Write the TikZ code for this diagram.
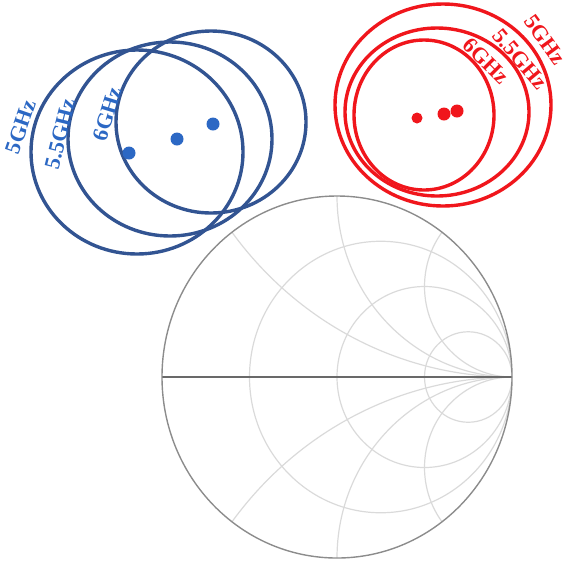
\documentclass[tikz,border=0pt]{standalone}
\usepackage{fontspec}
\setmainfont{Liberation Serif}[BoldFont={Liberation Serif Bold}]
\definecolor{bline}{RGB}{50,84,146}
\definecolor{bdot}{RGB}{44,104,196}
\definecolor{rline}{RGB}{240,22,28}
\definecolor{gridc}{RGB}{218,218,218}
\definecolor{rimc}{RGB}{140,140,140}
\definecolor{axc}{RGB}{105,105,105}
\tikzset{
  bcirc/.style={draw=bline,line width=3.4pt},
  rcirc/.style={draw=rline,line width=3.4pt},
  bdotst/.style={fill=bdot},
  rdotst/.style={fill=rline},
  blab/.style={text=bdot,font=\bfseries\fontsize{22}{22}\selectfont,inner sep=0pt},
  rlab/.style={text=rline,font=\bfseries\fontsize{22}{22}\selectfont,inner sep=0pt},
  gridl/.style={draw=gridc,line width=1.2pt},
}
\begin{document}
\begin{tikzpicture}[x=1pt,y=-1pt]
\useasboundingbox (0,0) rectangle (569,566);
% Smith chart
\begin{scope}[shift={(337,377)},xscale=175,yscale=-181]
  \begin{scope}
    \clip (0,0) circle (1);
    \draw[gridl] (0.25,0) circle (0.75);
    \draw[gridl] (0.5,0) circle (0.5);
    \draw[gridl] (0.75,0) circle (0.25);
    \draw[gridl] (1,2) circle (2);
    \draw[gridl] (1,-2) circle (2);
    \draw[gridl] (1,1) circle (1);
    \draw[gridl] (1,-1) circle (1);
    \draw[gridl] (1,0.5) circle (0.5);
    \draw[gridl] (1,-0.5) circle (0.5);
  \end{scope}
  \coordinate (sl) at (-1,0);
  \coordinate (sr) at (1,0);
  \draw[axc,line width=1.3pt] (sl) -- (sr);
  \draw[rimc,line width=1.4pt] (0,0) circle (1);
\end{scope}
% blue circles
\draw[bcirc] (137,152) ellipse [x radius=106,y radius=102];
\draw[bcirc] (170,139) ellipse [x radius=102,y radius=97];
\draw[bcirc] (211,122) ellipse [x radius=95,y radius=91];
\fill[bdotst] (129,153) circle (6.5);
\fill[bdotst] (177,139) circle (6.5);
\fill[bdotst] (213,124) circle (6.5);
\node[blab,rotate=71] (b5) at (21,127) {5GHz};
\node[blab,rotate=76] (b55) at (60,134) {5.5GHz};
\node[blab,rotate=73] (b6) at (107,114) {6GHz};
% red circles
\draw[rcirc] (443,105) ellipse [x radius=108,y radius=101];
\draw[rcirc] (437,112) ellipse [x radius=92,y radius=84];
\draw[rcirc] (424,115) ellipse [x radius=70,y radius=75];
\fill[rdotst] (417,118) circle (5.5);
\fill[rdotst] (444,114) circle (6.5);
\fill[rdotst] (457,111) circle (6.5);
\node[rlab,rotate=-54] (r5) at (545,40) {5GHz};
\node[rlab,rotate=-50] (r55) at (520,59) {5.5GHz};
\node[rlab,rotate=-45] (r6) at (486,61) {6GHz};
\end{tikzpicture}
\end{document}
